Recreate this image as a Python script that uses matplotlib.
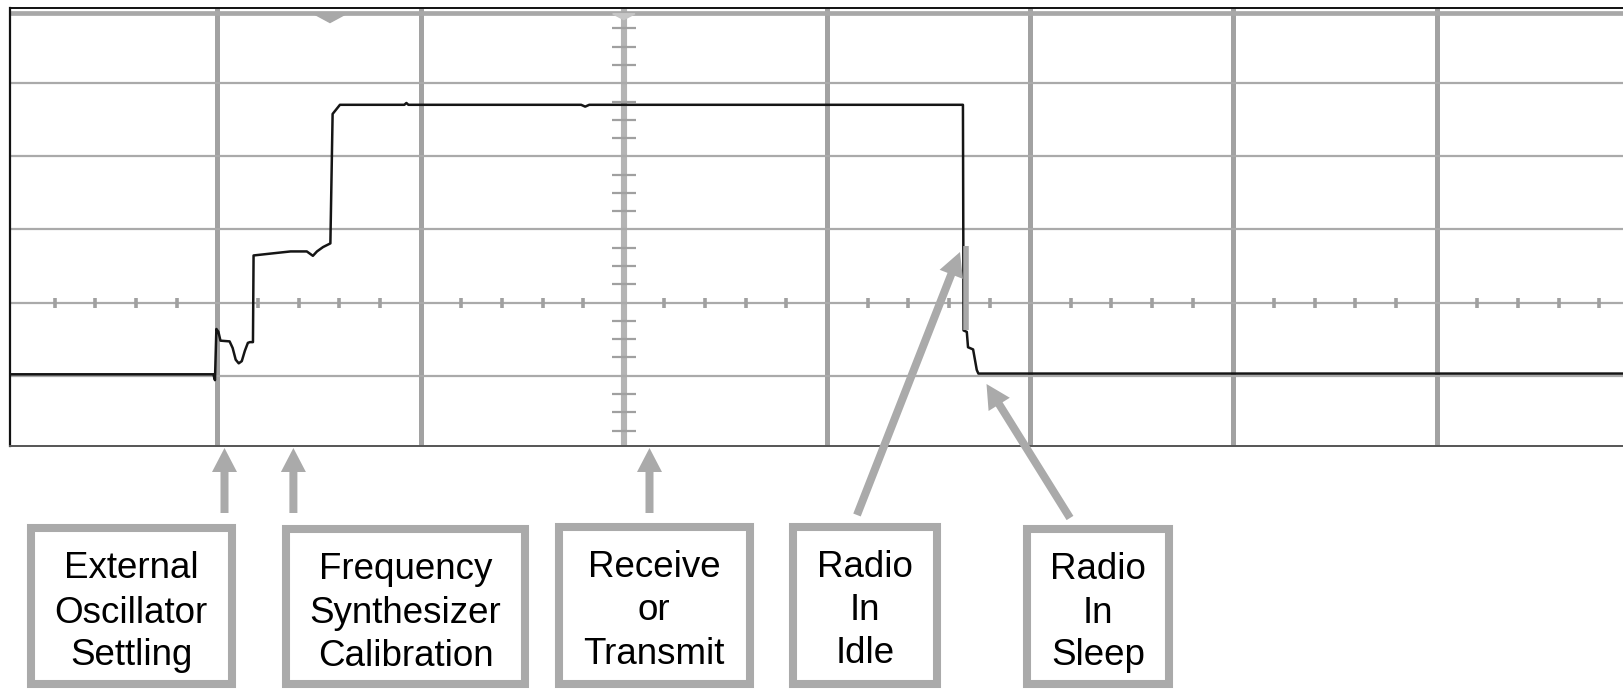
"""Radio start-up current trace (scope capture) with the state callouts."""
import matplotlib

matplotlib.use("Agg")
import matplotlib.pyplot as plt
from matplotlib.patches import Rectangle, Polygon, FancyArrow

plt.rcParams["font.family"] = ["Liberation Sans", "DejaVu Sans"]

W, H = 1623, 689

# scope trace, in screen divisions (x = time div, y = level div, 0 = centre line)
TIME = [-0.03, 0.98, 0.988, 0.995, 1.005, 1.015, 1.06, 1.075, 1.09, 1.105,
        1.12, 1.135, 1.15, 1.16, 1.175, 1.178, 1.26, 1.36, 1.44, 1.47,
        1.49, 1.52, 1.556, 1.567, 1.603, 1.92, 1.93, 1.94, 2.79, 2.81,
        2.83, 4.669, 4.672, 4.688, 4.694, 4.719, 4.737, 4.745, 7.95]
LEVEL = [-0.98, -0.98, -1.06, -0.36, -0.40, -0.52, -0.53, -0.62, -0.78, -0.83,
         -0.80, -0.66, -0.55, -0.54, -0.54, 0.645, 0.67, 0.70, 0.70, 0.64,
         0.70, 0.76, 0.81, 2.58, 2.705, 2.705, 2.73, 2.705, 2.705, 2.68,
         2.705, 2.705, -0.38, -0.40, -0.61, -0.64, -0.92, -0.97, -0.97]

# grey persistence band on the falling edge
FALL_X = [4.683, 4.683]
FALL_Y = [0.78, -0.38]

LABELS = [
    ["External", "Oscillator", "Settling"],
    ["Frequency", "Synthesizer", "Calibration"],
    ["Receive", "or", "Transmit"],
    ["Radio", "In", "Idle"],
    ["Radio", "In", "Sleep"],
]

# callout layout in figure pixels (y down)
BOXES = [(26.5, 236, 524), (282, 529, 525), (554.6, 753.6, 522.7),
         (789.3, 940.7, 522.7), (1022.7, 1173.3, 525)]
BASELINES = [(578.3, 622.7, 665), (579.3, 622.7, 666), (576.7, 620, 664),
             (576.7, 620, 663.3), (579.3, 623.3, 665)]
ARROWS = [((224.5, 513), (224.5, 448)), ((293.4, 513), (293.4, 448)),
          ((649.5, 513), (649.5, 448)), ((857, 515), (960, 252)),
          ((1070, 518), (986.5, 384))]

GREY = "#aaaaaa"

fig = plt.figure(figsize=(W / 100, H / 100), dpi=100)
fig.patch.set_facecolor("white")

# scope screen: px 10..1623 wide, 8..446 tall
ax = fig.add_axes([10 / W, (H - 446) / H, (W - 10) / W, 438 / H])
ax.set_xlim((10 - 14.2) / 203.2, (W - 14.2) / 203.2)
ax.set_ylim((302.3 - 446) / 73.3, (302.3 - 7) / 73.3)
ax.set_xticks([])
ax.set_yticks([])
ax.spines["right"].set_visible(False)
ax.spines["left"].set_color("#111111")
ax.spines["left"].set_linewidth(1.6)
ax.spines["top"].set_color("#111111")
ax.spines["top"].set_linewidth(1.4)
ax.spines["bottom"].set_color("#555555")
ax.spines["bottom"].set_linewidth(1.4)

for gx in range(1, 8):
    if gx == 3:
        ax.axvline(gx, color="#b4b4b4", lw=4.4, zorder=1)
    else:
        ax.axvline(gx, color="#a2a2a2", lw=3.6, zorder=1)
for gy in range(-1, 4):
    ax.axhline(gy, color="#aaaaaa", lw=1.6, zorder=1)
ax.axhline(3.965, color="#a8a8a8", lw=3.4, zorder=1)

# minor ticks on the centre axes
ys = [j * 0.25 for j in range(-7, 16) if j % 4 != 0]
ax.hlines(ys, 3 - 0.059, 3 + 0.059, color="#a0a0a0", lw=1.6, zorder=2)
xs = [k * 0.2 for k in range(1, 40) if k % 5 != 0]
ax.vlines(xs, -0.068, 0.068, color="#a0a0a0", lw=2.6, zorder=2)

# trigger markers at top
ax.add_patch(Polygon([(1.474, 3.95), (1.634, 3.95), (1.554, 3.83)],
                     closed=True, color="#a8a8a8", zorder=3))
ax.add_patch(Polygon([(2.945, 3.95), (3.055, 3.95), (3.0, 3.87)],
                     closed=True, color="#c6c6c6", zorder=3))

ax.plot(TIME, LEVEL, color="#151515", lw=1.8, zorder=5)
ax.plot(FALL_X, FALL_Y, color="#a8a8a8", lw=4.0, zorder=6,
        solid_capstyle="butt")

# callouts overlay in pixel space
ov = fig.add_axes([0, 0, 1, 1])
ov.set_xlim(0, W)
ov.set_ylim(H, 0)
ov.axis("off")
ov.patch.set_visible(False)

for (tail, tip) in ARROWS:
    ov.add_patch(FancyArrow(tail[0], tail[1], tip[0] - tail[0], tip[1] - tail[1],
                            width=8, head_width=25, head_length=24,
                            length_includes_head=True, color=GREY, lw=0))

for (x0, x1, y0), lines, bases in zip(BOXES, LABELS, BASELINES):
    ov.add_patch(Rectangle((x0 + 4, y0 + 4), x1 - x0 - 8, 688 - y0 - 8,
                           facecolor="white", edgecolor=GREY, lw=5.8))
    cx = (x0 + x1) / 2
    for txt, by in zip(lines, bases):
        ov.text(cx, by, txt, ha="center", va="baseline", fontsize=26.5,
                color="black")

fig.savefig("out.png", dpi=100)
